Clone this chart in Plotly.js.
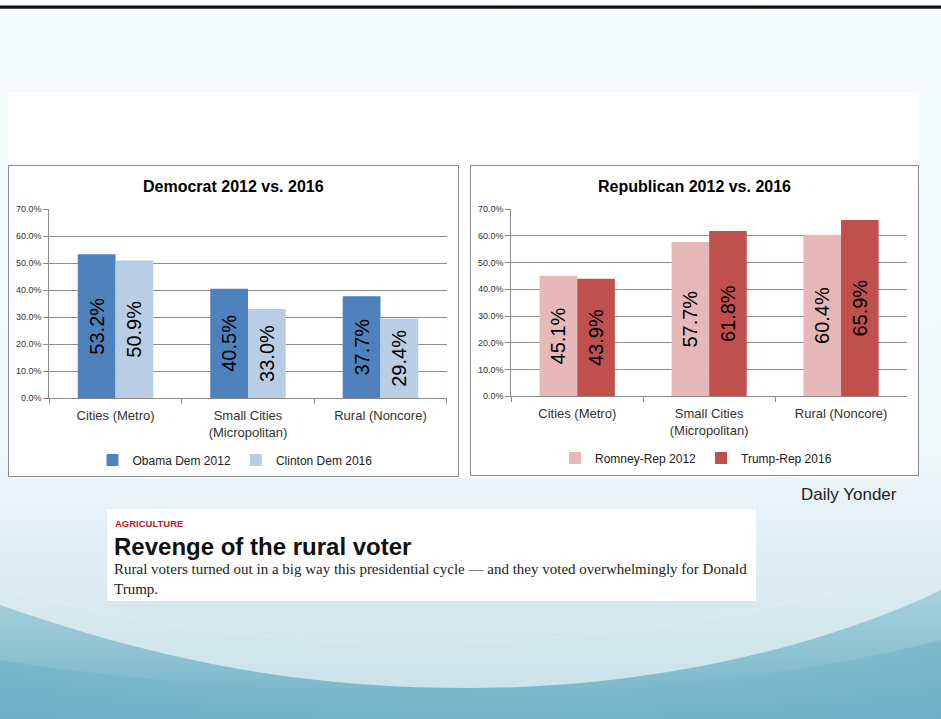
<!DOCTYPE html>
<html><head><meta charset="utf-8">
<script src="https://cdn.plot.ly/plotly-3.0.1.min.js"></script>
<style>
html,body{margin:0;padding:0;width:941px;height:719px;overflow:hidden;background:#f6fbfd;}
#bg{position:absolute;left:0;top:0;width:941px;height:719px;}
#chart{position:absolute;left:0;top:0;width:941px;height:719px;}
</style></head><body>
<svg id="bg" width="941" height="719" viewBox="0 0 941 719">
<defs>
<linearGradient id="g0" x1="0" y1="0" x2="0" y2="1">
<stop offset="0" stop-color="#f7fcfd"/>
<stop offset="0.62" stop-color="#f1f8fa"/>
<stop offset="0.8" stop-color="#dcecf1"/>
<stop offset="1" stop-color="#c6e0e8"/>
</linearGradient>
<linearGradient id="g1" x1="0" y1="0" x2="0" y2="1">
<stop offset="0" stop-color="#a9d1dd"/>
<stop offset="0.6" stop-color="#87bfd0"/>
<stop offset="1" stop-color="#6dafc4"/>
</linearGradient>
<linearGradient id="g2" x1="0" y1="0" x2="1" y2="0">
<stop offset="0" stop-color="#6aaec4" stop-opacity="0.9"/>
<stop offset="0.5" stop-color="#86bfd0" stop-opacity="0.5"/>
<stop offset="1" stop-color="#6eb0c5" stop-opacity="0.9"/>
</linearGradient>
</defs>
<rect width="941" height="719" fill="url(#g0)"/>
<path d="M0,605 C180,668 320,688 470,688 C650,688 820,648 941,590 L941,719 L0,719 Z" fill="url(#g1)"/>
<path d="M0,660 C250,700 650,715 941,640 L941,719 L0,719 Z" fill="url(#g2)" opacity="0.6"/>
<path d="M0,588 C200,640 500,690 941,565" fill="none" stroke="#ffffff" stroke-opacity="0.15" stroke-width="1.5"/>
</svg>
<div id="chart"></div>
<script>
// ---- data ----
const categories = ["Cities (Metro)", "Small Cities<br>(Micropolitan)", "Rural (Noncore)"];
const obamaDem2012 = [53.2, 40.5, 37.7];
const clintonDem2016 = [50.9, 33.0, 29.4];
const romneyRep2012 = [45.1, 57.7, 60.4];
const trumpRep2016 = [43.9, 61.8, 65.9];
const yTickVals = [0, 10, 20, 30, 40, 50, 60, 70];
const yTickText = ["0.0%", "10.0%", "20.0%", "30.0%", "40.0%", "50.0%", "60.0%", "70.0%"];
const leftTitle = "Democrat 2012 vs. 2016";
const rightTitle = "Republican 2012 vs. 2016";
const sourceText = "Daily Yonder";
const clipKicker = "AGRICULTURE";
const clipHeadline = "Revenge of the rural voter";
const clipBody = "Rural voters turned out in a big way this presidential cycle \u2014 and they voted overwhelmingly for Donald<br>Trump.";

// ---- layout helpers ----
const W = 941, H = 719;
const fx = x => x / W;
const fy = y => 1 - y / H;
const pct = v => v.toFixed(1) + '%';
const FONT = 'Liberation Sans, Arial, sans-serif';

function barTrace(name, y, color, xa, ya, legend) {
  return {
    type: 'bar', name: name, x: categories, y: y,
    xaxis: xa, yaxis: ya, legend: legend,
    marker: {color: color, line: {width: 0}},
    text: y.map(pct), textposition: 'inside', insidetextanchor: 'middle',
    textangle: -90, constraintext: 'none',
    insidetextfont: {family: FONT, size: 20, color: '#000'},
    hoverinfo: 'skip'
  };
}

const data = [
  barTrace('Obama Dem 2012', obamaDem2012, '#4f81bd', 'x', 'y', 'legend'),
  barTrace('Clinton Dem 2016', clintonDem2016, '#b9cde5', 'x', 'y', 'legend'),
  barTrace('Romney-Rep 2012', romneyRep2012, '#e6b9b8', 'x2', 'y2', 'legend2'),
  barTrace('Trump-Rep 2016', trumpRep2016, '#c0504d', 'x2', 'y2', 'legend2')
];

function xAxis(domain, anchor) {
  return {
    domain: domain, anchor: anchor, type: 'category',
    showline: true, linecolor: '#8a8a8a', linewidth: 1,
    ticks: 'outside', tickson: 'boundaries', ticklen: 5, tickcolor: '#8a8a8a',
    ticklabelstandoff: 5,
    showgrid: false, zeroline: false, fixedrange: true,
    tickfont: {family: FONT, size: 13, color: '#333'}
  };
}
function yAxis(domain, anchor) {
  return {
    domain: domain, anchor: anchor, range: [0, 70],
    tickmode: 'array', tickvals: yTickVals, ticktext: yTickText,
    showline: true, linecolor: '#8a8a8a', linewidth: 1,
    ticks: 'outside', ticklen: 5, tickcolor: '#8a8a8a',
    showgrid: true, gridcolor: '#8c8c8c', gridwidth: 1,
    zeroline: false, fixedrange: true,
    tickfont: {family: FONT, size: 9, color: '#333'}
  };
}

const shapes = [
  {type: 'rect', xref: 'paper', yref: 'paper', layer: 'below',
   x0: 0, x1: 1, y0: fy(8.7), y1: fy(5.5), fillcolor: '#111', line: {width: 0}},
  {type: 'rect', xref: 'paper', yref: 'paper', layer: 'below',
   x0: fx(8), x1: fx(919), y0: fy(478), y1: fy(92), fillcolor: '#ffffff', line: {width: 0}},
  {type: 'rect', xref: 'paper', yref: 'paper', layer: 'below',
   x0: fx(8.5), x1: fx(458.5), y0: fy(476.5), y1: fy(165.5), fillcolor: '#ffffff',
   line: {color: '#8a8a8a', width: 1}},
  {type: 'rect', xref: 'paper', yref: 'paper', layer: 'below',
   x0: fx(470.5), x1: fx(918.5), y0: fy(475.5), y1: fy(165.5), fillcolor: '#ffffff',
   line: {color: '#8a8a8a', width: 1}},
  {type: 'rect', xref: 'paper', yref: 'paper', layer: 'below',
   x0: fx(107), x1: fx(756), y0: fy(601), y1: fy(509), fillcolor: '#ffffff', line: {width: 0}}
];

const annotations = [
  {text: '<b>' + leftTitle + '</b>', xref: 'paper', yref: 'paper', x: fx(233), y: fy(186),
   xanchor: 'center', yanchor: 'middle', showarrow: false,
   font: {family: FONT, size: 16, color: '#000'}},
  {text: '<b>' + rightTitle + '</b>', xref: 'paper', yref: 'paper', x: fx(694), y: fy(186),
   xanchor: 'center', yanchor: 'middle', showarrow: false,
   font: {family: FONT, size: 16, color: '#000'}},
  {text: sourceText, xref: 'paper', yref: 'paper', x: fx(849), y: fy(494),
   xanchor: 'center', yanchor: 'middle', showarrow: false,
   font: {family: FONT, size: 17, color: '#222'}},
  {text: '<b>' + clipKicker + '</b>', xref: 'paper', yref: 'paper', x: fx(113), y: fy(523),
   xanchor: 'left', yanchor: 'middle', showarrow: false,
   font: {family: FONT, size: 9.5, color: '#c4161c'}},
  {text: '<b>' + clipHeadline + '</b>', xref: 'paper', yref: 'paper', x: fx(112), y: fy(546),
   xanchor: 'left', yanchor: 'middle', showarrow: false,
   font: {family: FONT, size: 24, color: '#111'}},
  {text: clipBody, xref: 'paper', yref: 'paper', x: fx(112), y: fy(579),
   xanchor: 'left', yanchor: 'middle', align: 'left', showarrow: false,
   font: {family: 'Liberation Serif, Times New Roman, serif', size: 15, color: '#222'}}
];

const layout = {
  width: W, height: H,
  margin: {l: 0, r: 0, t: 0, b: 0, pad: 0},
  paper_bgcolor: 'rgba(0,0,0,0)', plot_bgcolor: 'rgba(0,0,0,0)',
  barmode: 'group', bargap: 0.43, bargroupgap: 0,
  xaxis: xAxis([fx(49.3), fx(446.7)], 'y'),
  yaxis: yAxis([fy(398), fy(209)], 'x'),
  xaxis2: xAxis([fx(511.3), fx(907)], 'y2'),
  yaxis2: yAxis([fy(396.3), fy(209)], 'x2'),
  legend: {orientation: 'h', x: fx(235), xanchor: 'center', y: fy(460), yanchor: 'middle',
           bgcolor: 'rgba(0,0,0,0)', font: {family: FONT, size: 12, color: '#222'}, traceorder: 'normal'},
  legend2: {orientation: 'h', x: fx(696), xanchor: 'center', y: fy(458), yanchor: 'middle',
           bgcolor: 'rgba(0,0,0,0)', font: {family: FONT, size: 12, color: '#222'}, traceorder: 'normal'},
  shapes: shapes,
  annotations: annotations,
  hovermode: false
};

Plotly.newPlot('chart', data, layout, {staticPlot: true, displayModeBar: false});
</script>
</body></html>
